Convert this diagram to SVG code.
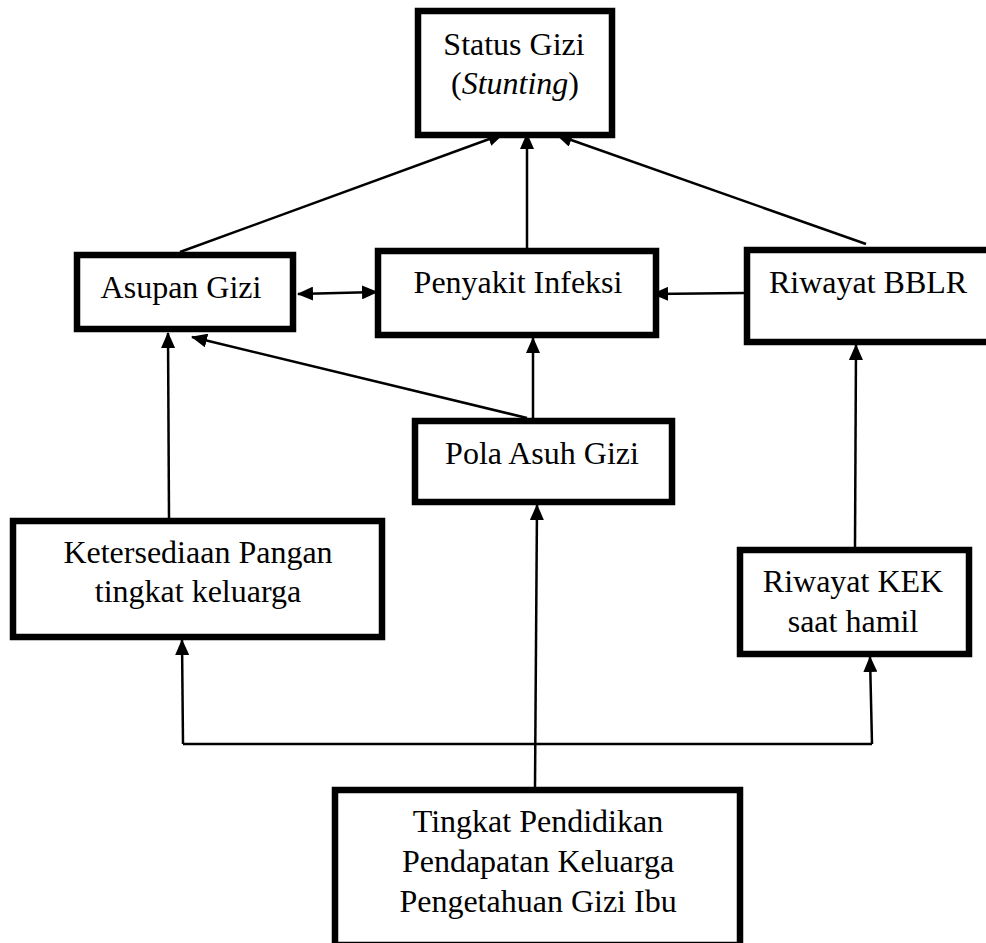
<svg xmlns="http://www.w3.org/2000/svg" width="986" height="943" viewBox="0 0 986 943">
<style>
.box{fill:#fff;stroke:#000;stroke-width:6.5}
.t{font-family:"Liberation Serif","Times New Roman",serif;font-size:32px;fill:#000;text-anchor:middle}
.c{fill:none;stroke:#000;stroke-width:2.5}
.a{marker-end:url(#ah)}
</style>
<defs>
<marker id="ah" markerUnits="userSpaceOnUse" markerWidth="16" markerHeight="14" refX="15" refY="7" orient="auto-start-reverse" viewBox="0 0 16 14">
<path d="M0,0 L16,7 L0,14 z" fill="#000"/>
</marker>
</defs>
<rect width="986" height="943" fill="#fff"/>
<g id="connectors">
<line class="c a" x1="180" y1="252" x2="503" y2="134"/>
<line class="c a" x1="527" y1="248" x2="527" y2="134"/>
<line class="c a" x1="866" y1="244" x2="557" y2="135"/>
<line class="c a" x1="298" y1="294" x2="377" y2="292" marker-start="url(#ah)"/>
<line class="c a" x1="744" y1="293" x2="653" y2="294"/>
<line class="c a" x1="533" y1="418" x2="533" y2="338"/>
<line class="c a" x1="527" y1="418" x2="192" y2="337"/>
<line class="c a" x1="169" y1="518" x2="168" y2="333"/>
<line class="c a" x1="855" y1="547" x2="856" y2="345"/>
<line class="c a" x1="535" y1="787" x2="537" y2="505"/>
<polyline class="c" points="183,744 872,744"/>
<line class="c a" x1="183" y1="744" x2="182" y2="640"/>
<line class="c a" x1="872" y1="744" x2="870" y2="657"/>
</g>
<g id="status">
<rect class="box" x="418" y="11" width="194" height="124"/>
<text class="t" x="514" y="55">Status Gizi</text>
<text class="t" x="515" y="94">(<tspan font-style="italic">Stunting</tspan>)</text>
</g>
<g id="asupan">
<rect class="box" x="77" y="255" width="216" height="74"/>
<text class="t" x="181" y="298">Asupan Gizi</text>
</g>
<g id="penyakit">
<rect class="box" x="378" y="251" width="278" height="84"/>
<text class="t" x="518" y="293">Penyakit Infeksi</text>
</g>
<g id="bblr">
<rect class="box" x="747" y="250" width="260" height="92"/>
<text class="t" x="868" y="293">Riwayat BBLR</text>
</g>
<g id="pola">
<rect class="box" x="415" y="421" width="257" height="81"/>
<text class="t" x="542" y="464">Pola Asuh Gizi</text>
</g>
<g id="ketersediaan">
<rect class="box" x="13" y="521" width="369" height="116"/>
<text class="t" x="198" y="563">Ketersediaan Pangan</text>
<text class="t" x="198" y="602">tingkat keluarga</text>
</g>
<g id="kek">
<rect class="box" x="740" y="550" width="229" height="104"/>
<text class="t" x="853" y="592">Riwayat KEK</text>
<text class="t" x="853" y="632">saat hamil</text>
</g>
<g id="pendidikan">
<rect class="box" x="335" y="790" width="405" height="155"/>
<text class="t" x="538" y="832">Tingkat Pendidikan</text>
<text class="t" x="538" y="872">Pendapatan Keluarga</text>
<text class="t" x="538" y="912">Pengetahuan Gizi Ibu</text>
</g>
</svg>
